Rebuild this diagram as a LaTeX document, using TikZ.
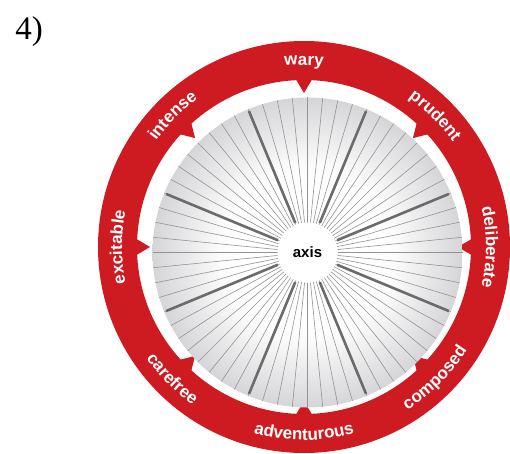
\documentclass[tikz,border=0pt]{standalone}
\usepackage{fontspec}
\setmainfont{Liberation Serif}
\newfontfamily\ringsans{Liberation Sans}
\usetikzlibrary{calc,decorations.text}
\definecolor{ringred}{RGB}{206,26,33}
\definecolor{diskrim}{RGB}{140,140,146}
\definecolor{diskouter}{RGB}{172,172,177}
\definecolor{diskmid}{RGB}{196,196,200}
\pgfdeclareradialshading{diskshade}{\pgfpoint{0bp}{0bp}}{color(0bp)=(white); color(10bp)=(white); color(14bp)=(white!95!diskmid); color(30bp)=(diskmid); color(42bp)=(diskouter); color(50bp)=(diskrim)}
\newcommand\ringlab{\ringsans\bfseries\fontsize{17pt}{17pt}\selectfont}

\begin{document}
\begin{tikzpicture}[x=1pt,y=1pt]
	\tikzstyle{thin spoke} = [line width=0.6pt, gray!85]
	\tikzstyle{thick spoke} = [line width=2.6pt, black!58]
	\tikzstyle{pointer} = [fill=ringred]
	\tikzstyle{outlabel} = [decorate, decoration={text along path, text={|\ringlab|#1}, text align=center, text color=white}]
	\useasboundingbox (0,0) rectangle (510,453);
	\clip (0,0) rectangle (510,453);
	\coordinate (ringc) at (304,206);
	\coordinate (diskc) at (307.5,200.5);
	
	\node (num) at (29,421) {\fontsize{33pt}{33pt}\selectfont 4)};
	
	% red ring with pointers
	\fill [ringred, even odd rule] (ringc) circle [radius=206pt] (ringc) circle [radius=167pt];
	\foreach \a in {0,45,...,315}
		\fill [pointer] ($(ringc)+(\a:154pt)$) -- ($(ringc)+(\a+2.8:168pt)$) -- ($(ringc)+(\a-2.8:168pt)$) -- cycle;
	
	% disk
	\shade [shading=diskshade] (diskc) circle [radius=155pt];
	\foreach \i in {0,...,63}
		\draw [thin spoke] ($(diskc)+(\i*5.625:30pt)$) -- ($(diskc)+(\i*5.625:155pt)$);
	\foreach \a in {22.5,67.5,...,337.5}
		\draw [thick spoke] ($(diskc)+(\a:32pt)$) -- ($(diskc)+(\a:153pt)$);
	\fill [white] (diskc) circle [radius=30pt];
	\node [font=\ringsans\bfseries\fontsize{15pt}{15pt}\selectfont] (hub) at (diskc) {axis};
	
	% labels
	\path [outlabel=wary] ($(ringc)+(130:182pt)$) arc [start angle=130, end angle=50, radius=182pt];
	\path [outlabel=prudent] ($(ringc)+(85:182pt)$) arc [start angle=85, end angle=5, radius=182pt];
	\path [outlabel=deliberate] ($(ringc)+(40:182pt)$) arc [start angle=40, end angle=-40, radius=182pt];
	\path [outlabel=composed] ($(ringc)+(-85:193pt)$) arc [start angle=-85, end angle=-5, radius=193pt];
	\path [outlabel=adventurous] ($(ringc)+(-130:193pt)$) arc [start angle=-130, end angle=-50, radius=193pt];
	\path [outlabel=carefree] ($(ringc)+(-175:193pt)$) arc [start angle=-175, end angle=-95, radius=193pt];
	\path [outlabel=excitable] ($(ringc)+(220:182pt)$) arc [start angle=220, end angle=140, radius=182pt];
	\path [outlabel=intense] ($(ringc)+(175:182pt)$) arc [start angle=175, end angle=95, radius=182pt];
	
\end{tikzpicture}
\end{document}
